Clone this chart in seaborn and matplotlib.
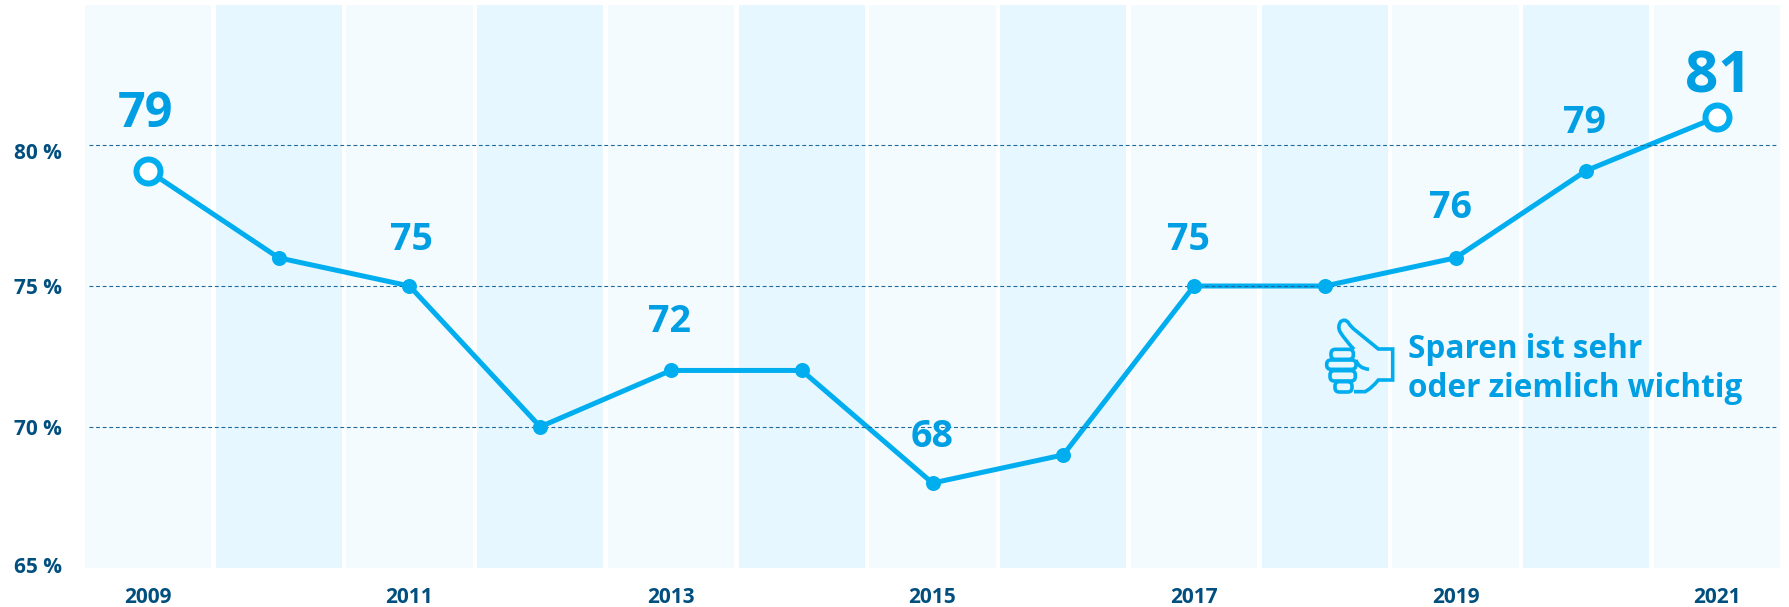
#!/usr/bin/env python3

import matplotlib
matplotlib.use('Agg')
import matplotlib.pyplot as plt
import pandas as pd
import seaborn as sns
from matplotlib.patches import FancyBboxPatch, PathPatch
from matplotlib.path import Path
from matplotlib.transforms import Affine2D, ScaledTranslation

years = [2009, 2010, 2011, 2012, 2013, 2014, 2015, 2016, 2017, 2018, 2019, 2020, 2021]
values = [79.1, 76, 75, 70, 72, 72, 68, 69, 75, 75, 76, 79.1, 81]

# Which years carry a label: year, text
labelled_years = [2009, 2011, 2013, 2015, 2017, 2019, 2020, 2021]
label_texts = ['79', '75', '72', '68', '75', '76', '79', '81']

x_ticks = [2009, 2011, 2013, 2015, 2017, 2019, 2021]
y_ticks = [65, 70, 75, 80]
y_tick_labels = ['65 %', '70 %', '75 %', '80 %']
grid_values = [70, 75, 80]
note_text = 'Sparen ist sehr\noder ziemlich wichtig'

LINE_BLUE = '#00aeef'
TEXT_BLUE = '#009fe3'
DARK_BLUE = '#004f7f'
BAND_LIGHT = '#f3fbfe'
BAND_DARK = '#e6f7ff'

W, H = 1789, 607
PX = 72 / 100  # points per pixel at dpi 100


def draw_thumb(fig):
    # Icon outline in pixels of a 3x crop whose corner is at (1280, 280)
    to_fig = Affine2D().scale(1 / 3, -1 / 3).translate(1280, H - 280)
    style = dict(fill=False, edgecolor=LINE_BLUE, linewidth=3.6 * PX, transform=to_fig, clip_on=False)
    hand = Path([(222, 335), (255, 335), (275, 325), (295, 300), (338, 300), (338, 207), (295, 207),
                 (225, 150), (212, 140), (205, 128), (195, 115), (182, 125), (172, 140), (180, 155),
                 (195, 180), (222, 208)],
                [Path.MOVETO, Path.LINETO, Path.CURVE3, Path.CURVE3, Path.LINETO, Path.LINETO, Path.LINETO,
                 Path.LINETO, Path.CURVE3, Path.CURVE3, Path.CURVE3, Path.CURVE3, Path.CURVE3, Path.CURVE3,
                 Path.CURVE3, Path.CURVE3])
    crease = Path([(228, 240), (235, 265), (267, 268)], [Path.MOVETO, Path.CURVE3, Path.CURVE3])
    fig.add_artist(PathPatch(hand, **style))
    fig.add_artist(PathPatch(crease, **style))
    for x0, y0, x1, y1 in [(153, 208, 220, 238), (140, 240, 228, 268),
                           (150, 272, 226, 303), (165, 305, 216, 336)]:
        fig.add_artist(FancyBboxPatch((x0, y0), x1 - x0, y1 - y0,
                                      boxstyle='round,pad=0,rounding_size=13', **style))


def main():
    sns.set_theme(style='white')
    plt.rcParams['font.family'] = ['Open Sans', 'DejaVu Sans']

    dataframe = pd.DataFrame({'year': years, 'value': values})

    fig = plt.figure(figsize=(W / 100, H / 100), dpi=100)
    ax = fig.add_axes([82.6 / W, 1 - 567.5 / H, (1782.4 - 82.6) / W, 563 / H])

    # Alternating year bands
    for i, year in enumerate(years):
        ax.axvspan(year - 0.483, year + 0.483, color=BAND_DARK if i % 2 else BAND_LIGHT, lw=0, zorder=0)

    sns.lineplot(data=dataframe, x='year', y='value', color=LINE_BLUE, linewidth=5 * PX,
                 errorbar=None, ax=ax, zorder=2)

    for value in grid_values:
        ax.axhline(value, xmin=0.0036, xmax=0.9962, color='#1f6a9c', linewidth=1.1 * PX,
                   dashes=(3.5, 2.5), zorder=3)

    inner = dataframe.iloc[1:-1]
    ends = dataframe.iloc[[0, -1]]
    sns.scatterplot(data=inner, x='year', y='value', color=LINE_BLUE, s=(15 * PX) ** 2,
                    linewidth=0, ax=ax, zorder=4)
    sns.scatterplot(data=ends, x='year', y='value', color='white', edgecolor=LINE_BLUE,
                    s=(24 * PX) ** 2, linewidth=6 * PX, ax=ax, zorder=4)

    # Value labels, bigger at both ends of the series
    sizes = {2009: 35, 2021: 42}
    raises = {2009: 44, 2011: 36, 2013: 38, 2015: 36, 2017: 36, 2019: 40, 2020: 38, 2021: 25}
    shifts = {2009: -3, 2011: 2, 2013: -1, 2015: 0, 2017: -6, 2019: -5, 2020: -2, 2021: 1}
    lookup = dict(zip(years, values))
    for year, text in zip(labelled_years, label_texts):
        ax.annotate(text, xy=(year, lookup[year]),
                    xytext=(shifts[year] * PX, raises[year] * PX), textcoords='offset points',
                    ha='center', va='baseline', color=TEXT_BLUE, fontweight='bold',
                    fontsize=sizes.get(year, 27), zorder=5)

    ax.set(xlim=(2008.5, 2021.5), ylim=(65, 85), xlabel='', ylabel='')
    ax.set_xticks(x_ticks)
    ax.set_xticklabels([str(y) for y in x_ticks])
    ax.set_yticks(y_ticks)
    ax.set_yticklabels(y_tick_labels)
    ax.tick_params(axis='both', length=0, labelsize=15, labelcolor=DARK_BLUE)
    ax.tick_params(axis='x', pad=14)
    ax.tick_params(axis='y', pad=15)
    for label in ax.get_xticklabels() + ax.get_yticklabels():
        label.set_fontweight('bold')

    # The y labels do not sit exactly on their gridlines in the original
    label_drops = {65: 2, 70: 0, 75: 0, 80: -6}
    for tick, value in zip(ax.yaxis.get_major_ticks(), y_ticks):
        shift = ScaledTranslation(0, label_drops[value] / 100, fig.dpi_scale_trans)
        tick.label1.set_transform(tick.label1.get_transform() + shift)

    sns.despine(ax=ax, left=True, bottom=True)

    fig.text(1408 / W, 1 - 397 / H, note_text, color=TEXT_BLUE, fontweight='bold', fontsize=22.7,
             ha='left', va='baseline', linespacing=1.26)
    draw_thumb(fig)

    fig.savefig('out.png', dpi=100, facecolor='white')


if __name__ == '__main__':
    main()
